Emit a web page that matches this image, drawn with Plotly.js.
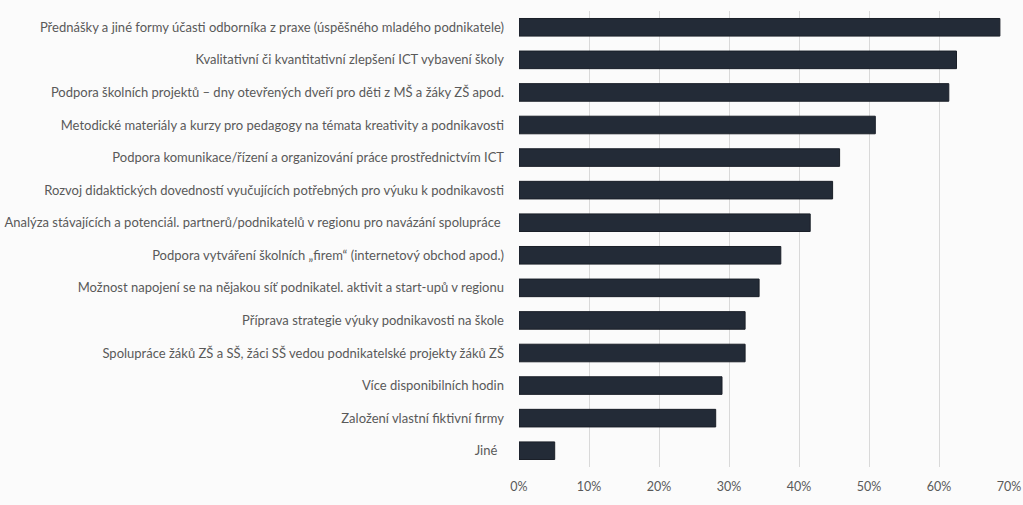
<!DOCTYPE html>
<html>
<head>
<meta charset="utf-8">
<script src="https://cdn.plot.ly/plotly-3.0.1.min.js"></script>
<style>html,body{margin:0;padding:0;background:#fbfbfb;}#chart{width:1023px;height:505px;}</style>
</head>
<body>
<div id="chart"></div>
<script>
const categories = [
  "Přednášky a jiné formy účasti odborníka z praxe (úspěšného mladého podnikatele)",
  "Kvalitativní či kvantitativní zlepšení ICT vybavení školy",
  "Podpora školních projektů – dny otevřených dveří pro děti z MŠ a žáky ZŠ apod.",
  "Metodické materiály a kurzy pro pedagogy na témata kreativity a podnikavosti",
  "Podpora komunikace/řízení a organizování práce prostřednictvím ICT",
  "Rozvoj didaktických dovedností vyučujících potřebných pro výuku k podnikavosti",
  "Analýza stávajících a potenciál. partnerů/podnikatelů v regionu pro navázání spolupráce\u00a0",
  "Podpora vytváření školních „firem“ (internetový obchod apod.)",
  "Možnost napojení se na nějakou síť podnikatel. aktivit a start-upů v regionu",
  "Příprava strategie výuky podnikavosti na škole",
  "Spolupráce žáků ZŠ a SŠ, žáci SŠ vedou podnikatelské projekty žáků ZŠ",
  "Více disponibilních hodin",
  "Založení vlastní fiktivní firmy",
  "Jiné\u00a0\u00a0"
];
const values = [68.7, 62.5, 61.4, 50.9, 45.8, 44.8, 41.6, 37.4, 34.3, 32.3, 32.3, 29.0, 28.1, 5.1];
const tickValues = [0, 10, 20, 30, 40, 50, 60, 70];

const fontFam = "Lato, 'Open Sans', sans-serif";
Plotly.newPlot('chart', [{
  type: 'bar',
  orientation: 'h',
  y: categories,
  x: values,
  marker: {color: '#232b37', line: {color: '#1a1f28', width: 1}},
  hoverinfo: 'skip'
}], {
  width: 1023, height: 505,
  margin: {l: 519, r: 14, t: 11, b: 38, pad: 0},
  paper_bgcolor: '#fbfbfb',
  plot_bgcolor: '#fbfbfb',
  bargap: 0.46,
  showlegend: false,
  font: {family: fontFam, size: 13, color: '#595959'},
  xaxis: {
    range: [0, 70],
    tickvals: tickValues,
    ticktext: tickValues.map(v => v + '%'),
    showgrid: true,
    gridcolor: '#d9d9d9',
    gridwidth: 1,
    zeroline: false,
    showline: false,
    ticks: '',
    ticklabelstandoff: 10,
    tickfont: {family: fontFam, size: 12.5, color: '#595959'},
    fixedrange: true
  },
  yaxis: {
    autorange: 'reversed',
    showgrid: false,
    zeroline: false,
    showline: false,
    ticks: '',
    ticklabelstandoff: 14,
    tickfont: {family: fontFam, size: 13, color: '#595959'},
    fixedrange: true
  }
}, {displayModeBar: false, staticPlot: true});
</script>
</body>
</html>
